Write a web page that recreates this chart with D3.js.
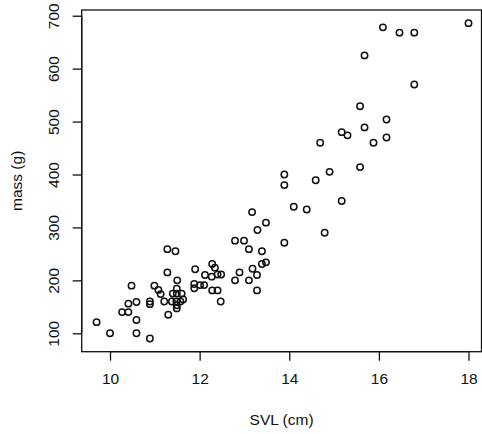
<!DOCTYPE html>
<html>
<head>
<meta charset="utf-8">
<script src="https://cdn.jsdelivr.net/npm/d3@7"></script>
<style>
  body { margin: 0; background: #fff; }
  svg { display: block; }
  text { font-family: "Liberation Sans", Arial, sans-serif; fill: #111; }
</style>
</head>
<body>
<svg id="chart" width="482" height="434"></svg>
<script>
// Snout-vent length (cm) and body mass (g) of each animal
const svl = [
  9.70, 10.00, 10.59, 10.89, 10.59, 10.27, 10.41, 10.41, 10.59, 10.48,
  10.89, 10.89, 10.99, 11.08, 11.13, 11.21, 11.30, 11.28, 11.28, 11.46,
  11.50, 11.49, 11.40, 11.49, 11.60, 11.38, 11.48, 11.57, 11.63, 11.49,
  11.49, 11.90, 11.88, 11.88, 12.01, 12.10, 12.12, 12.28, 12.34, 12.27,
  12.40, 12.48, 12.28, 12.40, 12.47, 12.79, 12.89, 12.79, 12.99, 13.10,
  13.10, 13.18, 13.28, 13.28, 13.39, 13.48, 13.39, 13.29, 13.48, 13.17,
  13.89, 13.89, 13.89, 14.10, 14.39, 14.59, 14.69, 14.79, 14.90, 15.17,
  15.17, 15.30, 15.58, 15.58, 15.68, 15.68, 15.88, 16.17, 16.17, 16.79,
  16.09, 16.46, 16.79, 18.00
];
const mass = [
  121, 100, 100, 90, 125, 140, 140, 156, 159, 190,
  160, 155, 190, 182, 174, 160, 135, 215, 259, 255,
  200, 184, 175, 175, 175, 160, 160, 160, 164, 153,
  147, 221, 193, 185, 191, 191, 210, 231, 224, 207,
  211, 211, 181, 181, 160, 200, 215, 275, 275, 259,
  200, 222, 210, 181, 231, 234, 255, 295, 309, 329,
  271, 380, 400, 339, 334, 389, 460, 290, 405, 350,
  480, 474, 414, 529, 489, 625, 460, 504, 470, 570,
  678, 668, 668, 686
];
const xTicks = [10, 12, 14, 16, 18];
const yTicks = [100, 200, 300, 400, 500, 600, 700];
const xTitle = "SVL (cm)";
const yTitle = "mass (g)";

const svg = d3.select("#chart");
const plot = { left: 81.7, right: 481.5, top: 10, bottom: 351.7 };

const x = d3.scaleLinear().domain([9.368, 18.29]).range([plot.left, plot.right]);
const y = d3.scaleLinear().domain([65.2, 710.8]).range([plot.bottom, plot.top]);

// plot frame
svg.append("rect")
  .attr("x", plot.left).attr("y", plot.top)
  .attr("width", plot.right - plot.left).attr("height", plot.bottom - plot.top)
  .attr("fill", "none").attr("stroke", "#111").attr("stroke-width", 1.3);

// x axis
const gx = svg.append("g")
  .attr("transform", `translate(0,${plot.bottom})`)
  .call(d3.axisBottom(x).tickValues(xTicks).tickSize(9).tickSizeOuter(0).tickPadding(12));
gx.select(".domain").attr("stroke", "#111").attr("stroke-width", 1.3)
  .attr("d", `M${x(xTicks[0])},0H${x(xTicks[xTicks.length - 1])}`);
gx.selectAll(".tick line").attr("stroke", "#111").attr("stroke-width", 1.3);
gx.selectAll(".tick text").style("font-size", "15.5px")
  .style("font-family", "Liberation Sans, Arial, sans-serif").attr("fill", "#111");

// y axis with rotated labels
const gy = svg.append("g")
  .attr("transform", `translate(${plot.left},0)`)
  .call(d3.axisLeft(y).tickValues(yTicks).tickSize(9).tickSizeOuter(0).tickPadding(0));
gy.select(".domain").attr("stroke", "#111").attr("stroke-width", 1.3)
  .attr("d", `M0,${y(yTicks[0])}V${y(yTicks[yTicks.length - 1])}`);
gy.selectAll(".tick line").attr("stroke", "#111").attr("stroke-width", 1.3);
gy.selectAll(".tick text")
  .attr("x", null).attr("dy", null)
  .attr("text-anchor", "middle")
  .attr("transform", "translate(-23,0) rotate(-90)")
  .attr("y", 0)
  .style("font-size", "15.5px")
  .style("font-family", "Liberation Sans, Arial, sans-serif").attr("fill", "#111");

// axis titles
svg.append("text")
  .attr("x", (plot.left + plot.right) / 2).attr("y", 425)
  .attr("text-anchor", "middle").style("font-size", "15.5px")
  .text(xTitle);
svg.append("text")
  .attr("transform", `translate(22,${(plot.top + plot.bottom) / 2}) rotate(-90)`)
  .attr("text-anchor", "middle").style("font-size", "15.5px")
  .text(yTitle);

// points
svg.append("g").selectAll("circle")
  .data(d3.range(svl.length))
  .join("circle")
  .attr("cx", i => x(svl[i]))
  .attr("cy", i => y(mass[i]))
  .attr("r", 3.2)
  .attr("fill", "none")
  .attr("stroke", "#111")
  .attr("stroke-width", 1.5);
</script>
</body>
</html>
